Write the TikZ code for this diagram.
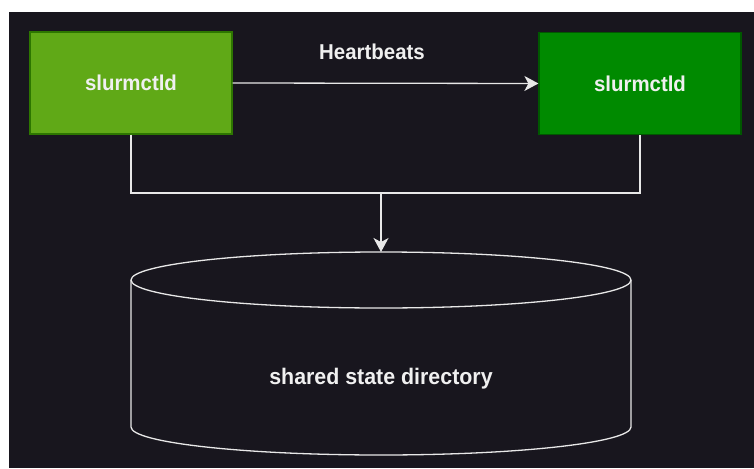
\documentclass[tikz,border=0pt]{standalone}
\usepackage{fontspec}
\setmainfont{Liberation Sans}
\newfontfamily\nf[FakeStretch=0.95]{Liberation Sans}
\usetikzlibrary{arrows.meta}
\definecolor{bg}{HTML}{18161E}
\definecolor{gA}{HTML}{60A917}
\definecolor{gAd}{HTML}{2D7600}
\definecolor{gB}{HTML}{008A00}
\definecolor{gBd}{HTML}{005700}
\definecolor{ln}{HTML}{E8E8E8}
\definecolor{tx}{HTML}{F0F0F0}
\begin{document}
\begin{tikzpicture}[x=1pt,y=-1pt,
  box/.style={draw=#1, line width=1.2pt, minimum width=202pt, minimum height=102pt, inner sep=0pt, text=tx, font=\nf\fontsize{21.5}{24}\selectfont\bfseries},
  conn/.style={draw=ln, line width=1.3pt},
  tip/.style={-{Stealth[length=14pt,width=15pt,inset=4pt]}}]
\useasboundingbox (0,0) rectangle (754,468);
\fill[white] (0,0) rectangle (754,468);
\fill[bg] (9,12) rectangle (754,468);
\node[box=gAd, fill=gA] (a) at (131,83) {slurmctld};
\node[box=gBd, fill=gB] (b) at (640,83.5) {slurmctld};
\node[text=tx, font=\nf\fontsize{21.5}{24}\selectfont\bfseries] (hb) at (372,52) {Heartbeats};
\draw[conn, tip] (a.east) -- (b.west);
\coordinate (j) at (381,193);
\coordinate (cyltop) at (381,252);
\draw[conn] (a.south) |- (j) -| (b.south);
\draw[conn, tip] (j) -- (cyltop);
% cylinder
\draw[conn, fill=bg] (131,280) -- (131,427) arc[start angle=180, end angle=0, x radius=250, y radius=28] -- (631,280);
\draw[conn] (381,280) ellipse[x radius=250, y radius=28];
\node[text=tx, font=\nf\fontsize{22.5}{25}\selectfont\bfseries] (cyl) at (381,379) {shared state directory};
\end{tikzpicture}
\end{document}
